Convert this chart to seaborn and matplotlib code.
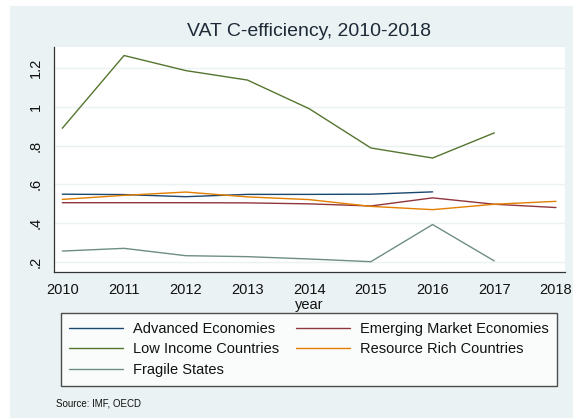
import pandas as pd
import seaborn as sns
import matplotlib.pyplot as plt
from matplotlib.patches import Rectangle

# Data
years = [2010, 2011, 2012, 2013, 2014, 2015, 2016, 2017, 2018]
advanced = [0.549, 0.547, 0.536, 0.548, 0.548, 0.549, 0.561, None, None]
emerging = [0.505, 0.505, 0.505, 0.504, 0.499, 0.488, 0.530, 0.497, 0.480]
low_income = [0.890, 1.266, 1.188, 1.139, 0.991, 0.788, 0.736, 0.866, None]
resource = [0.522, 0.543, 0.560, 0.535, 0.521, 0.486, 0.469, 0.497, 0.512]
fragile = [0.255, 0.269, 0.231, 0.226, 0.214, 0.200, 0.392, 0.204, None]

groups = ['Advanced Economies', 'Emerging Market Economies', 'Low Income Countries',
          'Resource Rich Countries', 'Fragile States']
colors = ['#1A476F', '#90353B', '#55752F', '#E37E00', '#6E8E84']

rows = []
for name, vals in zip(groups, [advanced, emerging, low_income, resource, fragile]):
    for yr, v in zip(years, vals):
        if v is not None:
            rows.append({'year': yr, 'value': v, 'group': name})
df = pd.DataFrame(rows)

sns.set_style('white')
plt.rcParams['font.family'] = ['Liberation Sans', 'DejaVu Sans']
bg = '#EAF2F3'
txt = '#111111'

fig = plt.figure(figsize=(5.73, 4.18), dpi=100)
fig.patch.set_facecolor('white')
fig.patches.append(Rectangle((10 / 573, 0), 1, 1 - 6 / 418, transform=fig.transFigure,
                             facecolor=bg, edgecolor='none', zorder=-10))

ax = fig.add_axes([54 / 573, 1 - 272 / 418, (565 - 54) / 573, (272 - 47) / 418])
ax.set_facecolor('white')
sns.lineplot(data=df, x='year', y='value', hue='group', hue_order=groups,
             palette=colors, linewidth=1.0, ax=ax)

ax.set_xlim(2009.865, 2018.146)
ax.set_ylim(0.1467, 1.310)
ax.set_xticks(years)
ax.set_xticklabels([str(y) for y in years], fontsize=10.5, color=txt)
yticks = [0.2, 0.4, 0.6, 0.8, 1.0, 1.2]
ax.set_yticks(yticks)
ax.set_yticklabels(['.2', '.4', '.6', '.8', '1', '1.2'], fontsize=10.5, color=txt,
                   rotation=90, va='center')
ax.tick_params(axis='both', direction='out', length=3.6, width=0.9, color='#333333', pad=4.5)
ax.yaxis.grid(True, color=bg, linewidth=1.0)
ax.set_axisbelow(True)
for s in ['top', 'right']:
    ax.spines[s].set_visible(False)
for s in ['left', 'bottom']:
    ax.spines[s].set_color('#333333')
    ax.spines[s].set_linewidth(0.9)

ax.set_xlabel('year', fontsize=10.5, color=txt, labelpad=0.5)
ax.set_ylabel('')

fig.text(309.5 / 573, 1 - 32 / 418, 'VAT C-efficiency, 2010-2018', ha='center', va='center',
         fontsize=14, color='#1E2A38')

handles, labels = ax.get_legend_handles_labels()
ax.get_legend().remove()
order = [0, 2, 4, 1, 3]
leg = fig.legend([handles[i] for i in order], [labels[i] for i in order], ncol=2,
                 loc='upper left',
                 bbox_to_anchor=(60.7 / 573, 1 - 317.3 / 418, (557.3 - 60.7) / 573, 0.01),
                 mode='expand', borderaxespad=0, fontsize=10.5, frameon=True,
                 fancybox=False, edgecolor='#222222', handlelength=3.7, handletextpad=0.65,
                 labelspacing=0.45, borderpad=0.6)
leg.get_frame().set_linewidth(1.0)
for t in leg.get_texts():
    t.set_color(txt)

fig.text(56 / 573, 1 - 403 / 418, 'Source: IMF, OECD', ha='left', va='center',
         fontsize=7, color=txt)

fig.savefig('out.png', dpi=100)
